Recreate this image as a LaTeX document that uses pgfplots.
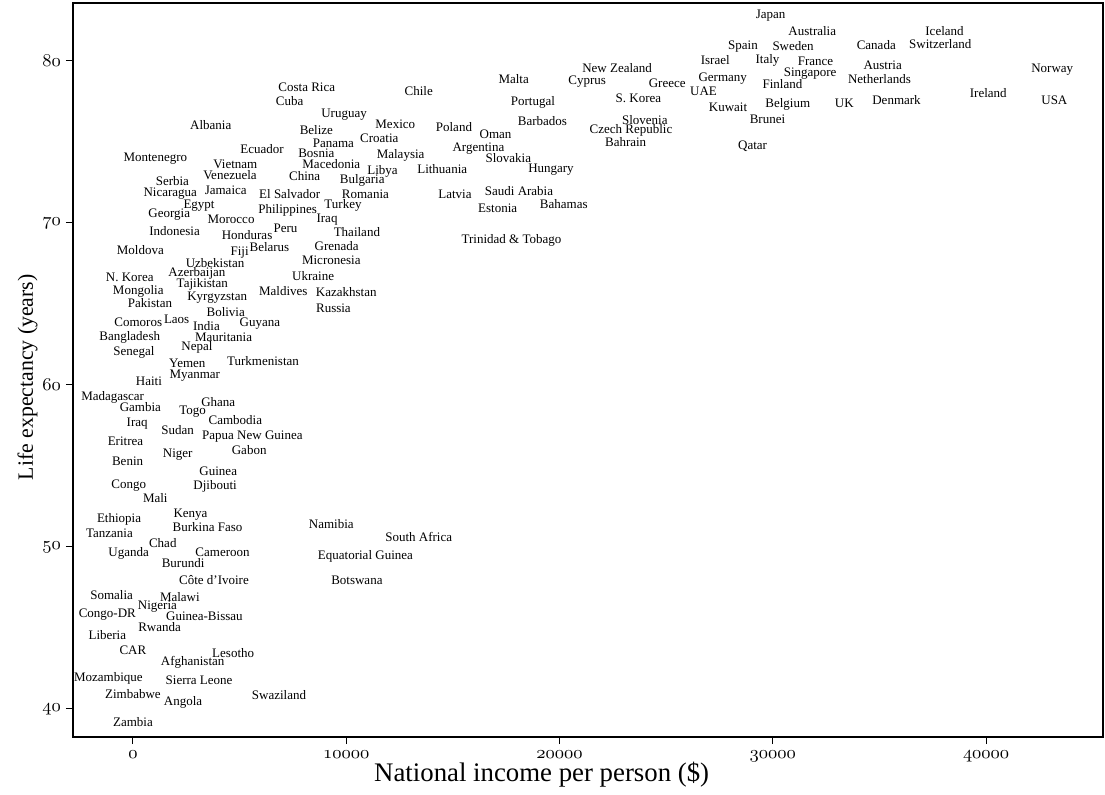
\documentclass[border=0pt]{standalone}
\usepackage{fontspec}
\setmainfont{Liberation Serif}
\usepackage{pgfplots}
\usepackage{pgfplotstable}
\pgfplotsset{compat=1.18}
\pgfplotstableread[col sep=comma]{
x,y,name
29900,82.8,Japan
31850,81.85,Australia
28600,80.9,Spain
30950,80.9,Sweden
38050,81.85,Iceland
34850,81.0,Canada
37850,81.05,Switzerland
27300,80.05,Israel
29750,80.05,Italy
32000,79.95,France
35150,79.75,Austria
31750,79.25,Singapore
35000,78.9,Netherlands
43100,79.45,Norway
22700,79.55,New Zealand
21300,78.7,Cyprus
25050,78.65,Greece
27650,78.9,Germany
30450,78.6,Finland
26750,78.1,UAE
17850,78.9,Malta
13400,78.15,Chile
8150,78.4,Costa Rica
7350,77.5,Cuba
18750,77.45,Portugal
23700,77.7,S. Korea
27900,77.15,Kuwait
30700,77.35,Belgium
33350,77.4,UK
35800,77.6,Denmark
40100,78.0,Ireland
43200,77.6,USA
29750,76.4,Brunei
9900,76.7,Uruguay
19200,76.3,Barbados
24000,76.35,Slovenia
23350,75.7,Czech Republic
23100,75.0,Bahrain
29050,74.75,Qatar
3650,76.05,Albania
12300,76.1,Mexico
15050,75.9,Poland
17000,75.5,Oman
8600,75.75,Belize
9400,74.9,Panama
11550,75.2,Croatia
6050,74.55,Ecuador
8600,74.3,Bosnia
16200,74.6,Argentina
12550,74.15,Malaysia
9300,73.65,Macedonia
17600,74.0,Slovakia
1050,73.95,Montenegro
4800,73.65,Vietnam
14500,73.3,Lithuania
11700,73.2,Libya
19600,73.3,Hungary
4550,72.95,Venezuela
8050,72.9,China
10750,72.6,Bulgaria
1850,72.6,Serbia
4350,72.05,Jamaica
1750,71.8,Nicaragua
7350,71.8,El Salvador
10900,71.8,Romania
15100,71.8,Latvia
18100,72.0,Saudi Arabia
3100,71.1,Egypt
9850,71.1,Turkey
17100,70.9,Estonia
20200,71.15,Bahamas
7250,70.8,Philippines
1700,70.5,Georgia
4600,70.25,Morocco
9100,70.2,Iraq
1950,69.5,Indonesia
7150,69.7,Peru
5350,69.25,Honduras
10500,69.45,Thailand
17750,68.95,Trinidad \& Tobago
6400,68.5,Belarus
9550,68.6,Grenada
350,68.3,Moldova
5000,68.15,Fiji
9300,67.7,Micronesia
3850,67.5,Uzbekistan
-150,66.65,N. Korea
3000,66.9,Azerbaijan
8450,66.7,Ukraine
3250,66.2,Tajikistan
250,65.8,Mongolia
7050,65.8,Maldives
10000,65.75,Kazakhstan
3950,65.4,Kyrgyzstan
800,65.05,Pakistan
4350,64.5,Bolivia
9400,64.75,Russia
250,63.9,Comoros
2050,64.05,Laos
3450,63.65,India
5950,63.8,Guyana
-150,62.95,Bangladesh
4250,62.95,Mauritania
3000,62.3,Nepal
50,62.0,Senegal
2550,61.35,Yemen
6100,61.5,Turkmenistan
2900,60.55,Myanmar
750,60.25,Haiti
-950,59.25,Madagascar
350,58.65,Gambia
4000,58.95,Ghana
2800,58.35,Togo
4800,57.85,Cambodia
200,57.6,Iraq
2100,57.2,Sudan
5600,56.8,Papua New Guinea
-350,56.5,Eritrea
5450,56.0,Gabon
2100,55.7,Niger
-250,55.3,Benin
4000,54.7,Guinea
-200,53.8,Congo
3850,53.75,Djibouti
1050,53.0,Mali
2700,52.0,Kenya
-650,51.7,Ethiopia
3500,51.25,Burkina Faso
-1100,50.85,Tanzania
9300,51.4,Namibia
13400,50.6,South Africa
1400,50.25,Chad
-200,49.6,Uganda
4200,49.7,Cameroon
2350,49.0,Burundi
10900,49.4,Equatorial Guinea
3800,47.95,Côte d’Ivoire
10500,47.95,Botswana
-1000,47.05,Somalia
2200,46.9,Malawi
1150,46.35,Nigeria
-1200,45.8,Congo-DR
3350,45.75,Guinea-Bissau
1250,45.05,Rwanda
-1200,44.55,Liberia
0,43.6,CAR
4700,43.45,Lesotho
2800,42.9,Afghanistan
-1150,41.9,Mozambique
3100,41.75,Sierra Leone
0,40.9,Zimbabwe
6850,40.85,Swaziland
2350,40.4,Angola
0,39.2,Zambia
}\countries

\begin{document}
\begin{tikzpicture}
\begin{axis}[
  scale only axis,
  width=515pt, height=367pt,
  xmin=-2810, xmax=45480,
  ymin=38.27, ymax=83.58,
  clip=false,
  scaled x ticks=false,
  axis line style={line width=0.6pt},
  every tick/.style={line width=0.5pt, black},
  tick align=outside,
  xtick pos=left, ytick pos=left,
  major tick length=3.5pt,
  xtick={0,10000,20000,30000,40000},
  xticklabels={$\mathnormal{0}$,$\mathnormal{10000}$,$\mathnormal{20000}$,$\mathnormal{30000}$,$\mathnormal{40000}$},
  ytick={40,50,60,70,80},
  yticklabels={$\mathnormal{40}$,$\mathnormal{50}$,$\mathnormal{60}$,$\mathnormal{70}$,$\mathnormal{80}$},
  tick label style={font=\fontsize{9}{10}\selectfont},
  yticklabel style={xshift=1pt},
  xlabel={National income per person (\$)},
  ylabel={Life expectancy (years)},
  xlabel style={font=\fontsize{13.4}{15}\selectfont, at={(axis description cs:0.455,-0.0518)}, anchor=center},
  ylabel style={font=\fontsize{10.9}{12}\selectfont, at={(axis description cs:-0.044,0.49)}, anchor=center},
]
\addplot[only marks, mark=none, nodes near coords, point meta=explicit symbolic,
  nodes near coords style={anchor=center, font=\fontsize{6.5}{7}\selectfont, inner sep=0pt, text=black}]
  table[x=x, y=y, meta=name] {\countries};
\coordinate (SW) at (rel axis cs:0,0);
\coordinate (NE) at (rel axis cs:1,1);
\end{axis}
\path ([shift={(-36.5pt,-27.5pt)}]SW) rectangle ([shift={(1pt,1.5pt)}]NE);
\end{tikzpicture}
\end{document}
